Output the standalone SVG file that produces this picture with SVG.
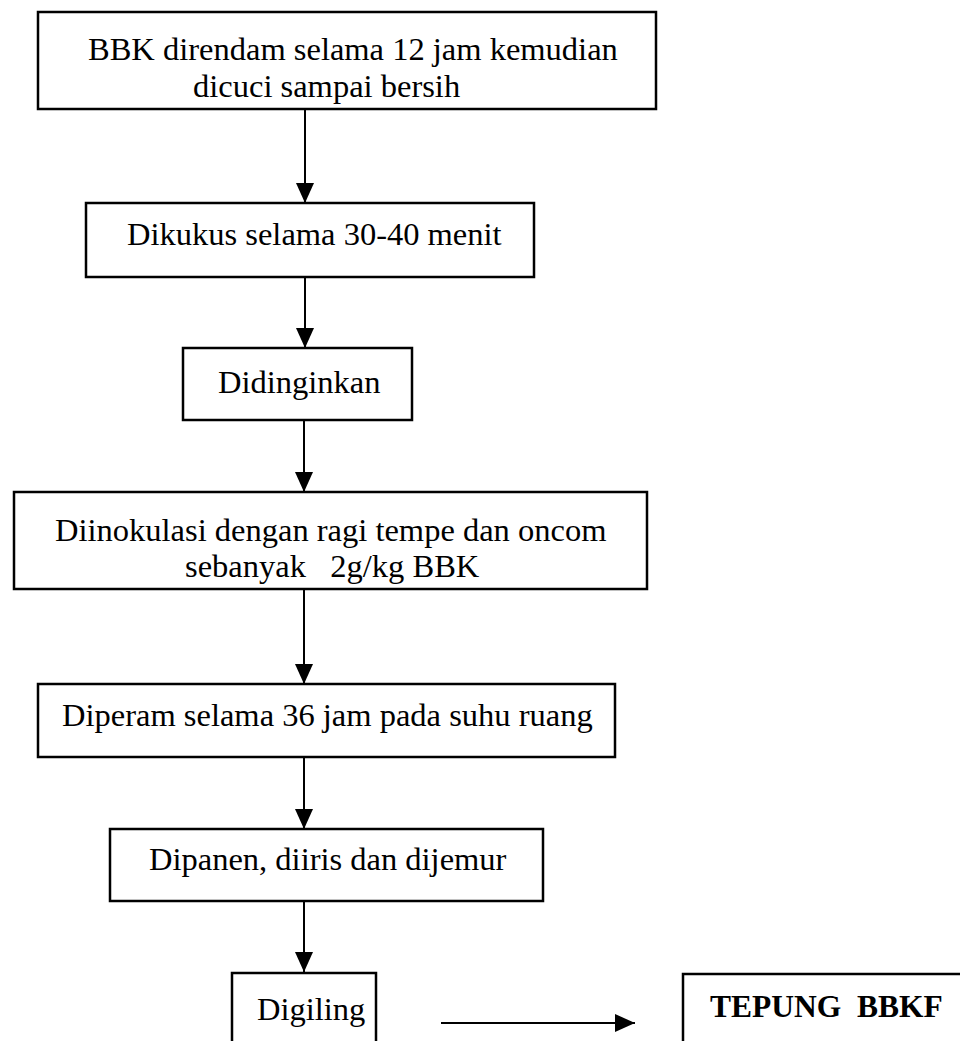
<svg xmlns="http://www.w3.org/2000/svg" width="960" height="1041" viewBox="0 0 960 1041">
<style>
.box{fill:#fff;stroke:#000;stroke-width:2.5}
.t{font-family:"Liberation Serif","Times New Roman",serif;font-size:32.5px;fill:#000}
.b{font-weight:bold;font-size:31.5px}
.c{stroke:#000;stroke-width:2;fill:none;marker-end:url(#ah)}
</style>
<defs>
<marker id="ah" markerUnits="userSpaceOnUse" markerWidth="20" markerHeight="20" refX="20" refY="10" orient="auto">
<path d="M0,1 L20,10 L0,19 Z" fill="#000"/>
</marker>
</defs>
<rect width="960" height="1041" fill="#fff"/>
<g id="connectors">
<line class="c" x1="305" y1="109" x2="305" y2="203"/>
<line class="c" x1="305" y1="277" x2="305" y2="348"/>
<line class="c" x1="304" y1="420" x2="304" y2="492"/>
<line class="c" x1="304" y1="589" x2="304" y2="684"/>
<line class="c" x1="304" y1="757" x2="304" y2="829"/>
<line class="c" x1="304" y1="901" x2="304" y2="972"/>
<line class="c" x1="441" y1="1023" x2="635" y2="1023"/>
</g>
<g id="n1">
<rect class="box" x="38" y="12" width="618" height="97"/>
<text class="t" x="88" y="60">BBK direndam selama 12 jam kemudian</text>
<text class="t" x="193" y="97">dicuci sampai bersih</text>
</g>
<g id="n2">
<rect class="box" x="86" y="203" width="448" height="74"/>
<text class="t" x="127" y="245">Dikukus selama 30-40 menit</text>
</g>
<g id="n3">
<rect class="box" x="183" y="348" width="229" height="72"/>
<text class="t" x="218" y="393">Didinginkan</text>
</g>
<g id="n4">
<rect class="box" x="14" y="492" width="633" height="97"/>
<text class="t" x="55" y="541">Diinokulasi dengan ragi tempe dan oncom</text>
<text class="t" x="185" y="577" xml:space="preserve">sebanyak   2g/kg BBK</text>
</g>
<g id="n5">
<rect class="box" x="38" y="684" width="577" height="73"/>
<text class="t" x="62" y="726">Diperam selama 36 jam pada suhu ruang</text>
</g>
<g id="n6">
<rect class="box" x="110" y="829" width="433" height="72"/>
<text class="t" x="149" y="870">Dipanen, diiris dan dijemur</text>
</g>
<g id="n7">
<rect class="box" x="232" y="973" width="144" height="100"/>
<text class="t" x="257" y="1020">Digiling</text>
</g>
<g id="n8">
<rect class="box" x="683" y="974" width="300" height="100"/>
<text class="t b" x="710" y="1017" xml:space="preserve">TEPUNG  BBKF</text>
</g>
</svg>
